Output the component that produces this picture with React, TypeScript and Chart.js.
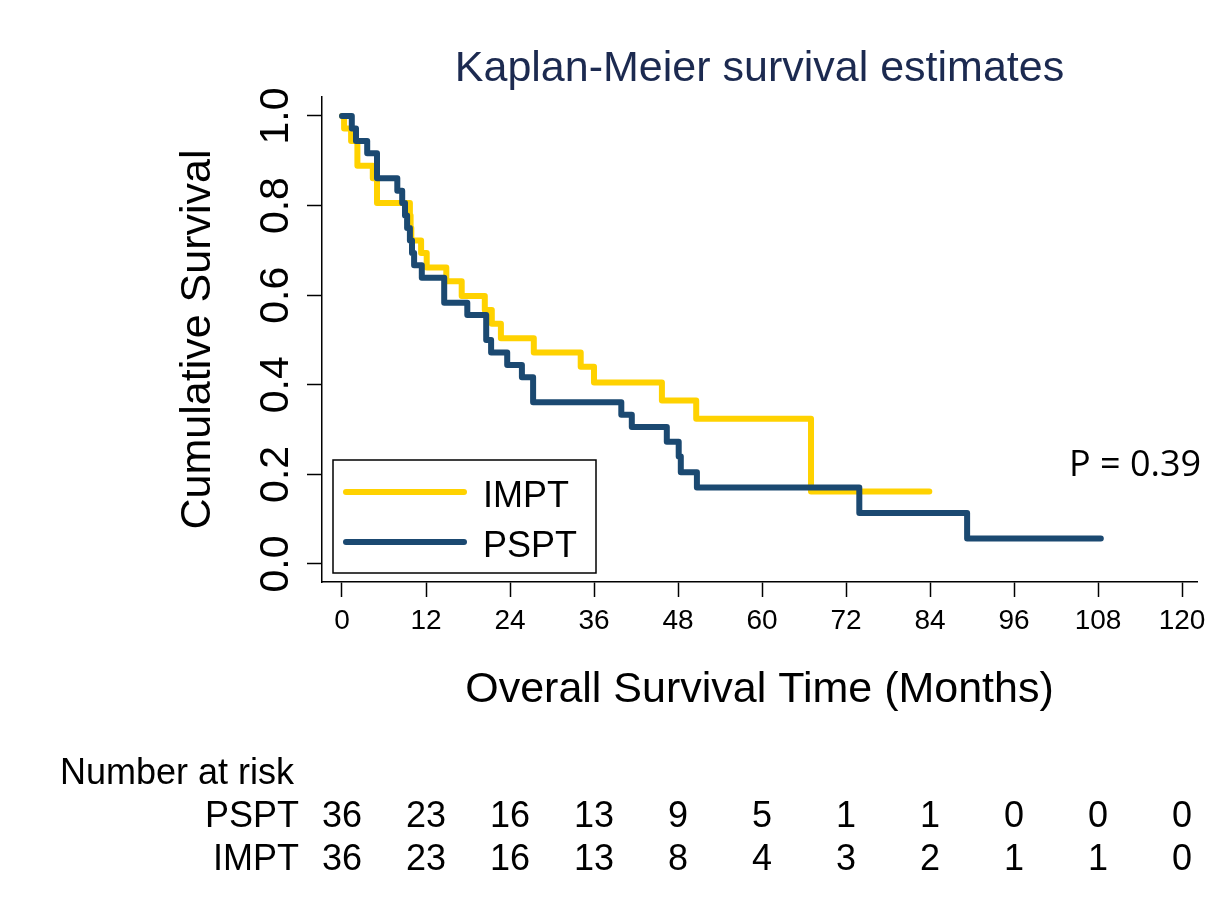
import React, { useEffect, useRef } from "react";
import { Chart, registerables } from "chart.js";

Chart.register(...registerables);

const xTickValues = [0, 12, 24, 36, 48, 60, 72, 84, 96, 108, 120];
const yTickValues = [0, 0.2, 0.4, 0.6, 0.8, 1.0];

const imptTime = [0, 0.3, 1.3, 2.2, 4.4, 5.0, 9.7, 9.8, 9.9, 11.3, 12.1, 14.9, 17.1, 20.4, 21.4, 22.7, 27.4, 34.1, 36.0, 45.7, 50.6, 67.0, 83.9];
const imptSurv = [1, 0.972, 0.944, 0.889, 0.861, 0.806, 0.778, 0.75, 0.722, 0.694, 0.662, 0.631, 0.598, 0.567, 0.536, 0.504, 0.472, 0.44, 0.405, 0.365, 0.324, 0.162, 0.162];

const psptTime = [0, 1.4, 2.0, 3.6, 5.0, 7.9, 8.6, 9.0, 9.3, 9.7, 10.0, 10.3, 11.4, 14.6, 17.9, 20.6, 21.3, 23.6, 25.7, 27.3, 39.9, 41.4, 46.4, 48.1, 48.4, 50.7, 73.9, 89.3, 108.4];
const psptSurv = [1, 0.972, 0.944, 0.917, 0.861, 0.833, 0.806, 0.778, 0.75, 0.722, 0.694, 0.667, 0.639, 0.583, 0.556, 0.5, 0.472, 0.444, 0.417, 0.361, 0.333, 0.306, 0.273, 0.24, 0.205, 0.171, 0.114, 0.057, 0.057];

const riskTimes = [0, 12, 24, 36, 48, 60, 72, 84, 96, 108, 120];
const psptRisk = [36, 23, 16, 13, 9, 5, 1, 1, 0, 0, 0];
const imptRisk = [36, 23, 16, 13, 8, 4, 3, 2, 1, 1, 0];

const titleText = "Kaplan-Meier survival estimates";
const xTitle = "Overall Survival Time (Months)";
const yTitle = "Cumulative Survival";
const pText = "P = 0.39";

const YELLOW = "#ffd200";
const NAVY = "#1b4971";
const FONT = "'Liberation Sans', Arial, Helvetica, sans-serif";

export default function App() {
  const ref = useRef<HTMLCanvasElement | null>(null);

  useEffect(() => {
    const canvas = ref.current;
    if (!canvas) return;

    const overlay = {
      id: "overlay",
      afterDraw(chart: any) {
        const ctx = chart.ctx as CanvasRenderingContext2D;
        const area = chart.chartArea;
        const xs = chart.scales.x;
        ctx.save();
        // main title
        ctx.fillStyle = "#1c2a50";
        ctx.font = `43px ${FONT}`;
        ctx.textAlign = "center";
        ctx.textBaseline = "alphabetic";
        ctx.fillText(titleText, (area.left + area.right) / 2, 81);

        // p value
        ctx.fillStyle = "#000";
        ctx.font = `36px 'Open Sans', 'Noto Sans', sans-serif`;
        ctx.textAlign = "left";
        ctx.fillText(pText, 1069, 476);

        // legend
        ctx.lineWidth = 1.5;
        ctx.strokeStyle = "#000";
        ctx.strokeRect(333, 460, 263, 113);
        ctx.lineCap = "round";
        ctx.lineWidth = 6;
        ctx.strokeStyle = YELLOW;
        ctx.beginPath();
        ctx.moveTo(346, 492);
        ctx.lineTo(464, 492);
        ctx.stroke();
        ctx.strokeStyle = NAVY;
        ctx.beginPath();
        ctx.moveTo(346, 542);
        ctx.lineTo(464, 542);
        ctx.stroke();
        ctx.fillStyle = "#000";
        ctx.font = `36px ${FONT}`;
        ctx.textAlign = "left";
        ctx.fillText("IMPT", 483, 507);
        ctx.fillText("PSPT", 483, 557);

        // number at risk table
        ctx.font = `36px ${FONT}`;
        ctx.textAlign = "left";
        ctx.fillText("Number at risk", 60, 784);
        ctx.textAlign = "right";
        ctx.fillText("PSPT", 299, 827);
        ctx.fillText("IMPT", 299, 870);
        ctx.textAlign = "center";
        riskTimes.forEach((t, i) => {
          const px = xs.getPixelForValue(t);
          ctx.fillText(String(psptRisk[i]), px, 827);
          ctx.fillText(String(imptRisk[i]), px, 870);
        });
        ctx.restore();
      },
    };

    const chart = new Chart(canvas, {
      type: "line",
      data: {
        datasets: [
          {
            label: "IMPT",
            data: imptTime.map((t, i) => ({ x: t, y: imptSurv[i] })),
            borderColor: YELLOW,
            backgroundColor: YELLOW,
            borderWidth: 6,
            stepped: true,
            pointRadius: 0,
            fill: false,
            borderCapStyle: "round",
            borderJoinStyle: "round",
            order: 1,
          },
          {
            label: "PSPT",
            data: psptTime.map((t, i) => ({ x: t, y: psptSurv[i] })),
            borderColor: NAVY,
            backgroundColor: NAVY,
            borderWidth: 6,
            stepped: true,
            pointRadius: 0,
            fill: false,
            borderCapStyle: "round",
            borderJoinStyle: "round",
            order: 0,
          },
        ],
      },
      options: {
        animation: false,
        responsive: false,
        layout: { padding: { top: 97, right: 25, bottom: 0, left: 0 } },
        plugins: {
          legend: { display: false },
          title: { display: false },
          tooltip: { enabled: false },
        },
        scales: {
          x: {
            type: "linear",
            min: -2.857,
            max: 122.14,
            afterBuildTicks: (s: any) => {
              s.ticks = xTickValues.map((v) => ({ value: v }));
            },
            afterFit: (s: any) => {
              s.height = 318;
            },
            grid: {
              drawOnChartArea: false,
              drawTicks: true,
              tickLength: 15,
              tickWidth: 1.5,
              tickColor: "#000",
            },
            border: { display: true, color: "#000", width: 1.5 },
            ticks: {
              color: "#000",
              font: { family: FONT, size: 28 },
              padding: 7,
              maxRotation: 0,
              autoSkip: false,
              callback: (v: any) => String(v),
            },
            title: {
              display: true,
              text: xTitle,
              color: "#000",
              font: { family: FONT, size: 43 },
              padding: { top: 0, bottom: 184 },
            },
          },
          y: {
            type: "linear",
            min: -0.0402,
            max: 1.0424,
            afterBuildTicks: (s: any) => {
              s.ticks = yTickValues.map((v) => ({ value: v }));
            },
            afterFit: (s: any) => {
              s.width = 322;
            },
            grid: {
              drawOnChartArea: false,
              drawTicks: true,
              tickLength: 15,
              tickWidth: 1.5,
              tickColor: "#000",
            },
            border: { display: true, color: "#000", width: 1.5 },
            ticks: {
              color: "#000",
              font: { family: FONT, size: 41 },
              padding: 2,
              minRotation: 90,
              maxRotation: 90,
              crossAlign: "center",
              autoSkip: false,
              callback: (v: any) => Number(v).toFixed(1),
            },
            title: {
              display: true,
              text: yTitle,
              color: "#000",
              font: { family: FONT, size: 43 },
              padding: { top: 172, bottom: 0 },
            },
          },
        },
      },
      plugins: [overlay],
    } as any);

    return () => chart.destroy();
  }, []);

  return (
    <div style={{ position: "fixed", left: 0, top: 0, width: 1222, height: 900, background: "#fff" }}>
      <canvas ref={ref} width={1222} height={900} style={{ display: "block", width: 1222, height: 900 }} />
    </div>
  );
}
